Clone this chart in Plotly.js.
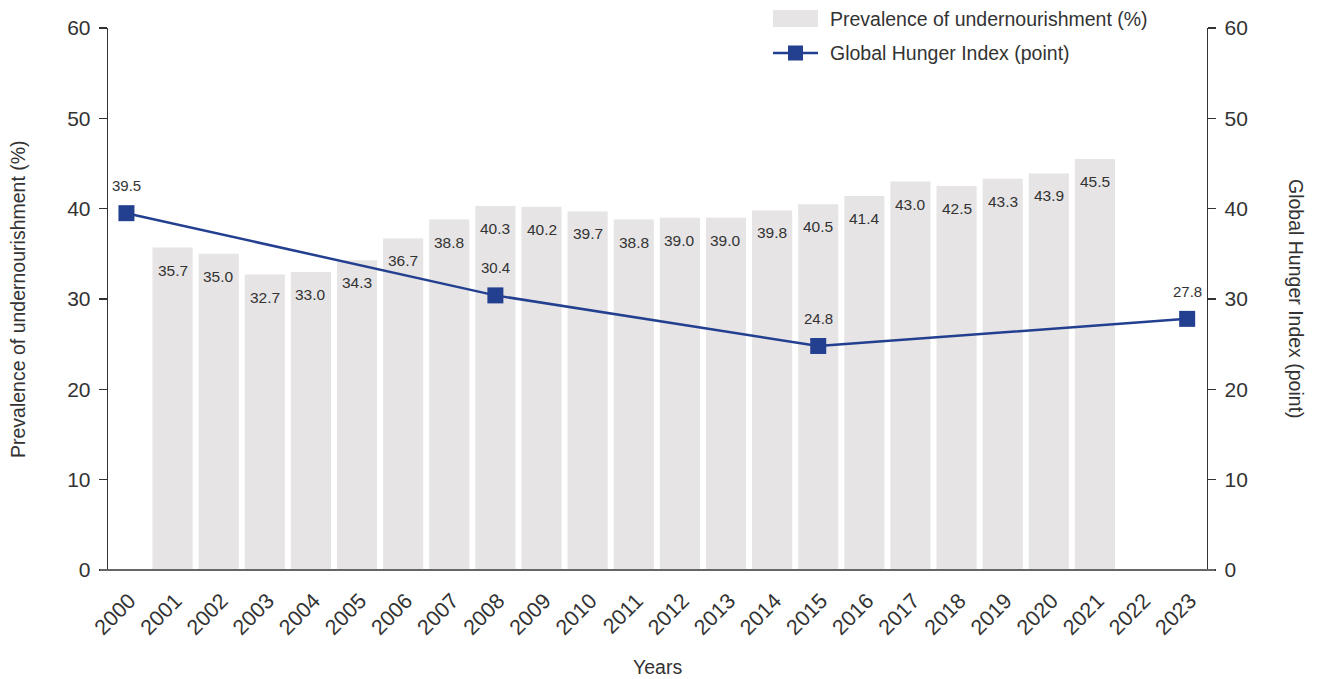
<!DOCTYPE html>
<html>
<head>
<meta charset="utf-8">
<script src="https://cdn.plot.ly/plotly-3.0.1.min.js"></script>
<style>html,body{margin:0;padding:0;background:#fff;}#chart{width:1317px;height:679px;}</style>
</head>
<body>
<div id="chart"></div>
<script>
const years = ['2000','2001','2002','2003','2004','2005','2006','2007','2008','2009','2010','2011','2012','2013','2014','2015','2016','2017','2018','2019','2020','2021','2022','2023'];
const barYears = ['2001','2002','2003','2004','2005','2006','2007','2008','2009','2010','2011','2012','2013','2014','2015','2016','2017','2018','2019','2020','2021'];
const prevalence = [35.7,35.0,32.7,33.0,34.3,36.7,38.8,40.3,40.2,39.7,38.8,39.0,39.0,39.8,40.5,41.4,43.0,42.5,43.3,43.9,45.5];
const ghiYears = ['2000','2008','2015','2023'];
const ghi = [39.5,30.4,24.8,27.8];
const yTicks = [0,10,20,30,40,50,60];

const FONT = '"Liberation Sans", Arial, sans-serif';
const TXT = '#333333';
const BAR = '#e6e4e5';
const LINE = '#233f8f';

const bars = {
  type: 'bar', name: 'Prevalence of undernourishment (%)',
  x: barYears, y: prevalence, marker: {color: BAR}, width: 0.87,
  hoverinfo: 'skip'
};
const line = {
  type: 'scatter', mode: 'lines+markers', name: 'Global Hunger Index (point)',
  x: ghiYears, y: ghi, yaxis: 'y2',
  line: {color: LINE, width: 2.5},
  marker: {symbol: 'square', size: 16, color: LINE},
  hoverinfo: 'skip'
};

const annotations = [];
barYears.forEach((yr, i) => annotations.push({
  x: years.indexOf(yr), y: prevalence[i], xref: 'x', yref: 'y', text: prevalence[i].toFixed(1),
  showarrow: false, yanchor: 'top', yshift: -12,
  font: {family: FONT, size: 15.5, color: TXT}
}));
ghiYears.forEach((yr, i) => annotations.push({
  x: years.indexOf(yr), y: ghi[i], xref: 'x', yref: 'y2', text: ghi[i].toFixed(1),
  showarrow: false, yanchor: 'bottom', yshift: 17,
  font: {family: FONT, size: 15, color: TXT}
}));
// axis titles
annotations.push({
  xref: 'paper', yref: 'paper', x: 1, y: 0.5, xanchor: 'center', yanchor: 'middle',
  xshift: 89, textangle: 90, showarrow: false,
  text: 'Global Hunger Index (point)', font: {family: FONT, size: 19.5, color: TXT}
});
annotations.push({
  xref: 'paper', yref: 'paper', x: 0, y: 0.5, xanchor: 'center', yanchor: 'middle',
  xshift: -90, textangle: -90, showarrow: false,
  text: 'Prevalence of undernourishment (%)', font: {family: FONT, size: 19.5, color: TXT}
});
annotations.push({
  xref: 'paper', yref: 'paper', x: 0.5, y: 0, xanchor: 'center', yanchor: 'middle',
  yshift: -97, showarrow: false,
  text: 'Years', font: {family: FONT, size: 19.5, color: TXT}
});
// legend texts
annotations.push({
  xref: 'paper', yref: 'paper', x: (828-108)/1099, y: (570-19)/542, xanchor: 'left', yanchor: 'middle',
  showarrow: false, text: 'Prevalence of undernourishment (%)', font: {family: FONT, size: 19.5, color: TXT}
});
annotations.push({
  xref: 'paper', yref: 'paper', x: (828-108)/1099, y: (570-53)/542, xanchor: 'left', yanchor: 'middle',
  showarrow: false, text: 'Global Hunger Index (point)', font: {family: FONT, size: 19.5, color: TXT}
});

function px(x){return (x-108)/1099;}
function py(y){return (570-y)/542;}
const shapes = [
  {type:'rect', xref:'paper', yref:'paper', x0:px(773), x1:px(818), y0:py(27), y1:py(10), fillcolor:BAR, line:{width:0}},
  {type:'line', xref:'paper', yref:'paper', x0:px(773), x1:px(818), y0:py(53), y1:py(53), line:{color:LINE, width:2.5}},
  {type:'rect', xref:'paper', yref:'paper', x0:px(788), x1:px(803), y0:py(60.5), y1:py(45.5), fillcolor:LINE, line:{width:0}},
  {type:'line', xref:'paper', yref:'paper', x0:px(100), x1:px(1215), y0:0, y1:0, line:{color:'#666666', width:2}, layer:'above'}
];

const layout = {
  width: 1317, height: 679,
  margin: {l: 108, r: 110, t: 28, b: 109, pad: 0},
  paper_bgcolor: '#ffffff', plot_bgcolor: '#ffffff',
  font: {family: FONT, color: TXT, size: 17},
  showlegend: false,
  xaxis: {
    type: 'category', categoryorder: 'array', categoryarray: years,
    range: [-0.4, 23.43], tickangle: -45, showgrid: false, zeroline: false,
    showline: false, ticks: '', tickfont: {family: FONT, size: 21.5, color: TXT},
    ticklabelstandoff: 13, ticklabelshift: 3
  },
  yaxis: {
    range: [0, 60], tickvals: yTicks, showgrid: false, zeroline: false,
    showline: true, linecolor: '#333333', linewidth: 1.3,
    ticks: 'outside', ticklen: 8, tickcolor: '#333333', tickwidth: 1.3,
    tickfont: {family: FONT, size: 21, color: TXT}, ticklabelstandoff: 4
  },
  yaxis2: {
    overlaying: 'y', side: 'right',
    range: [0, 60], tickvals: yTicks, showgrid: false, zeroline: false,
    showline: true, linecolor: '#333333', linewidth: 1.3,
    ticks: 'outside', ticklen: 8, tickcolor: '#333333', tickwidth: 1.3,
    tickfont: {family: FONT, size: 21, color: TXT}, ticklabelstandoff: 4
  },
  annotations: annotations,
  shapes: shapes
};

Plotly.newPlot('chart', [bars, line], layout, {displayModeBar: false, staticPlot: true});
</script>
</body>
</html>
